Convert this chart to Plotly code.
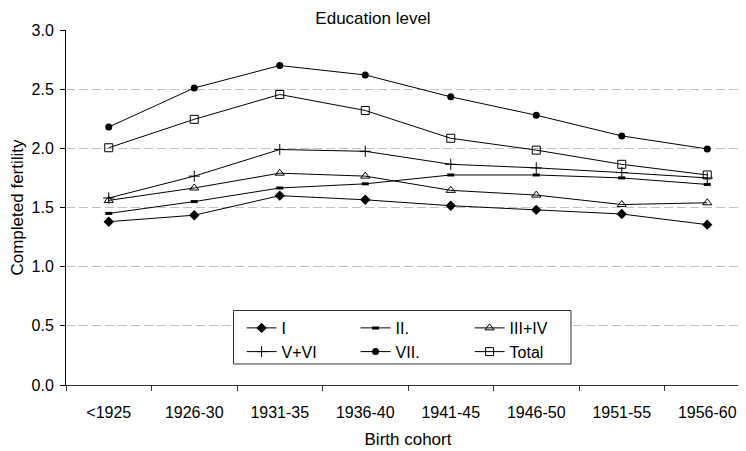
import plotly.graph_objects as go

cohorts = ["<1925", "1926-30", "1931-35", "1936-40", "1941-45", "1946-50", "1951-55", "1956-60"]
edu_I = [1.38, 1.435, 1.60, 1.565, 1.515, 1.48, 1.445, 1.355]
edu_II = [1.45, 1.55, 1.665, 1.70, 1.775, 1.775, 1.75, 1.695]
edu_III_IV = [1.56, 1.665, 1.79, 1.765, 1.645, 1.605, 1.525, 1.54]
edu_V_VI = [1.58, 1.765, 1.99, 1.975, 1.865, 1.835, 1.795, 1.75]
edu_VII = [2.18, 2.51, 2.70, 2.62, 2.435, 2.28, 2.105, 1.995]
total = [2.005, 2.245, 2.455, 2.32, 2.085, 1.985, 1.865, 1.775]

FONT = "Liberation Sans, Arial, sans-serif"

series = [
    ("I", edu_I, dict(symbol="diamond", size=8, color="black"), "legend"),
    ("II.", edu_II, dict(symbol="line-ew", size=5, color="black", line=dict(width=3, color="black")), "legend"),
    ("III+IV", edu_III_IV, dict(symbol="triangle-up-open", size=8, color="black", line=dict(width=1, color="black")), "legend"),
    ("V+VI", edu_V_VI, dict(symbol="cross-thin", size=8, color="black", line=dict(width=1, color="black")), "legend2"),
    ("VII.", edu_VII, dict(symbol="circle", size=7, color="black"), "legend2"),
    ("Total", total, dict(symbol="square-open", size=8, color="black", line=dict(width=1, color="black")), "legend2"),
]

fig = go.Figure()
for name, vals, marker, leg in series:
    fig.add_trace(go.Scatter(
        x=cohorts, y=vals, name=name, mode="lines+markers",
        line=dict(color="black", width=1), marker=marker, legend=leg,
    ))

legend_common = dict(
    orientation="h", xanchor="left", yanchor="middle",
    entrywidth=69, entrywidthmode="pixels",
    bgcolor="rgba(0,0,0,0)", borderwidth=0,
    font=dict(family=FONT, size=16, color="black"),
    itemclick=False, itemdoubleclick=False,
)

fig.update_layout(
    width=746, height=451,
    margin=dict(l=58, r=4, t=22, b=74, autoexpand=False),
    paper_bgcolor="white", plot_bgcolor="white",
    font=dict(family=FONT, size=16, color="black"),
    title=dict(text="Education level", x=(373 - 8) / 746, xref="container", xanchor="center",
               y=1 - 10 / 451, yref="container", yanchor="middle",
               font=dict(family=FONT, size=17, color="black")),
    showlegend=True,
    legend=dict(x=0.2567, y=0.1606, **legend_common),
    legend2=dict(x=0.2567, y=0.0938, **legend_common),
    shapes=[dict(type="rect", xref="paper", yref="paper",
                 x0=0.2449, x1=0.7383, y0=0.0592, y1=0.2099,
                 line=dict(color="#333333", width=1), fillcolor="white", layer="above")],
)

fig.update_xaxes(
    type="category", range=[-0.5, 7.5], automargin=False,
    showline=True, linecolor="#333333", linewidth=1,
    ticks="outside", tickson="boundaries", ticklen=5, tickcolor="#333333",
    ticklabelstandoff=13,
    showgrid=False, tickfont=dict(family=FONT, size=16),
    title=dict(text="Birth cohort", font=dict(family=FONT, size=17), standoff=12),
)
fig.update_yaxes(
    range=[0, 3], dtick=0.5, tickformat=".1f", automargin=False,
    showline=True, linecolor="black", linewidth=1,
    ticks="outside", ticklen=5, tickcolor="black",
    ticklabelstandoff=3,
    showgrid=True, gridcolor="#c0c0c0", griddash="9px,4px", gridwidth=1,
    zeroline=False, tickfont=dict(family=FONT, size=16),
    title=dict(text="Completed fertility", font=dict(family=FONT, size=17), standoff=5),
)

fig.write_html("out.html")
